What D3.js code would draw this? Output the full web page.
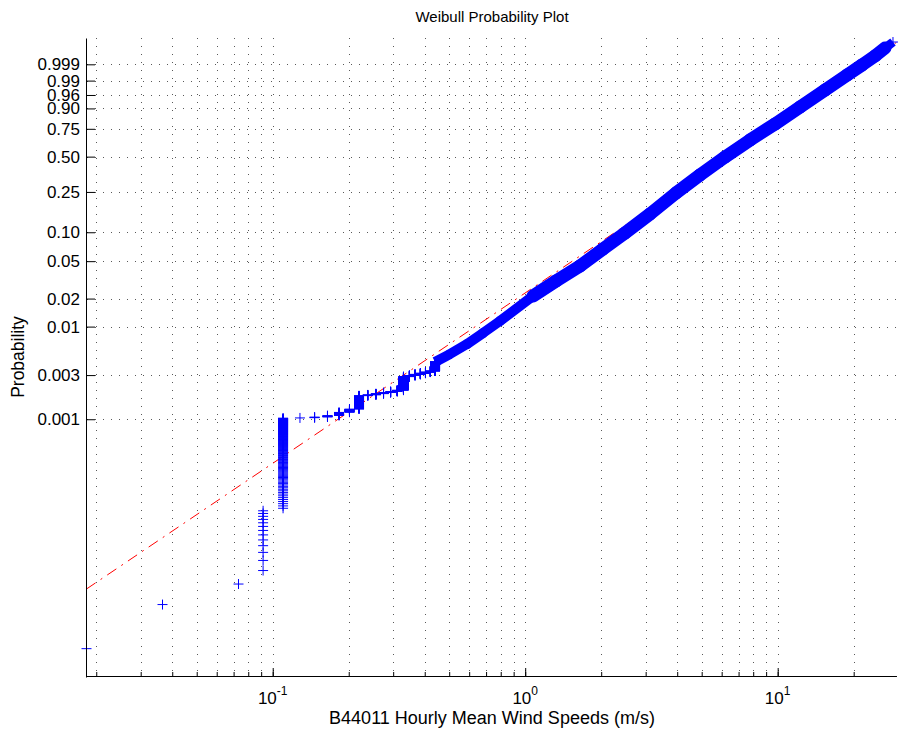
<!DOCTYPE html>
<html>
<head>
<meta charset="utf-8">
<title>Weibull Probability Plot</title>
<script src="https://cdn.jsdelivr.net/npm/d3@7/dist/d3.min.js"></script>
<style>
  body { margin: 0; background: #fff; }
  svg { display: block; font-family: "Liberation Sans", Arial, Helvetica, sans-serif; }
</style>
</head>
<body>
<script>
// number of hourly observations behind the plot
var nObs = 151500;

// lowest wind speeds (m/s): the discrete values and how many hours had each
var lowSpeeds = [0.0183, 0.0366, 0.0732, 0.0916, 0.1099, 0.1282, 0.1465, 0.1648, 0.1831, 0.2014,
                 0.2197, 0.2380, 0.2563, 0.2747, 0.2930, 0.3113, 0.3296, 0.3479, 0.3662, 0.3845,
                 0.4028, 0.4211, 0.4394];
var lowCounts = [1, 1, 1, 13, 140, 1, 3, 6, 14, 15,
                 77, 6, 8, 8, 8, 10, 125, 13, 13, 13,
                 13, 14, 127];

// rest of the empirical distribution, read along the dense band of markers
var bandSpeeds = [0.4394, 0.5036, 0.5882, 0.6805, 0.7946, 1.074, 1.3245, 1.648, 2.033, 2.485,
                  3.121, 3.956, 4.922, 6.184, 7.770, 9.757, 12.25, 15.39, 18.82, 21.57,
                  24.28, 26.61, 28.62];
var bandProbs = [0.00415, 0.00506, 0.00649, 0.00853, 0.01148, 0.0213, 0.0308, 0.0444, 0.0671, 0.0982,
                 0.1530, 0.2443, 0.3550, 0.4967, 0.6495, 0.7902, 0.9079, 0.97377, 0.99496, 0.998873,
                 0.999795, 0.9999684, 0.99999407];

// fitted weibull reference line (shape, scale in m/s)
var fitShape = 1.843;
var fitScale = 7.70;

// axis ticks
var yTickProbs = [0.001, 0.003, 0.01, 0.02, 0.05, 0.10, 0.25, 0.50, 0.75, 0.90, 0.96, 0.99, 0.999];
var yTickLabels = ["0.001", "0.003", "0.01", "0.02", "0.05", "0.10", "0.25", "0.50", "0.75", "0.90", "0.96", "0.99", "0.999"];
var xDecades = [0.1, 1, 10];
var xDecadeExps = ["-1", "0", "1"];

var svgOptions = { width: 898, height: 740 };
var plot = { left: 86, right: 896.3, top: 38, bottom: 676 };

// weibull probability paper: log10(-ln(1 - p))
var weib = function (p) { return Math.log10(-Math.log(1 - p)); };

var x = d3.scaleLog().domain([0.0183, 29.5]).range([86.5, 896.3]);
var y = d3.scaleLinear().domain([-5.788, 1.124]).range([677, 38]);

var px = function (d) { return x(d.speed); };
var py = function (d) { return y(weib(d.p)); };

var canvas = d3.select("body")
  .append("svg")
  .attr("width", svgOptions.width)
  .attr("height", svgOptions.height);

// dotted grid
canvas.append("g").selectAll("line")
  .data(x.ticks())
  .enter().append("line")
  .attr("x1", function (d) { return Math.round(x(d)) + 0.5; })
  .attr("x2", function (d) { return Math.round(x(d)) + 0.5; })
  .attr("y1", plot.top)
  .attr("y2", plot.bottom)
  .attr("stroke", "#000")
  .attr("stroke-opacity", 0.65)
  .attr("stroke-dasharray", "1,7")
  .attr("shape-rendering", "crispEdges");

canvas.append("g").selectAll("line")
  .data(yTickProbs)
  .enter().append("line")
  .attr("x1", plot.left + 1)
  .attr("x2", plot.right)
  .attr("y1", function (d) { return Math.round(y(weib(d))) + 0.5; })
  .attr("y2", function (d) { return Math.round(y(weib(d))) + 0.5; })
  .attr("stroke", "#000")
  .attr("stroke-opacity", 0.65)
  .attr("stroke-dasharray", "1,7")
  .attr("shape-rendering", "crispEdges");

// reference line, straight on this paper
var fitEnds = x.domain().map(function (s) {
  return { speed: s, p: 1 - Math.exp(-Math.pow(s / fitScale, fitShape)) };
});
canvas.append("path")
  .datum(fitEnds)
  .attr("fill", "none")
  .attr("stroke", "#ff0000")
  .attr("stroke-width", 1)
  .attr("stroke-dasharray", "11,6,2,6")
  .attr("d", d3.line().x(px).y(py));

// plotting positions (i - 0.5) / n for the low discrete values
var lowPoints = [];
var rank = 0;
lowSpeeds.forEach(function (s, j) {
  for (var c = 0; c < lowCounts[j]; c++) {
    rank += 1;
    lowPoints.push({ speed: s, p: (rank - 0.5) / nObs });
  }
});

var bandPoints = bandSpeeds.map(function (s, i) { return { speed: s, p: bandProbs[i] }; });

// the band: markers so dense they merge; a bit thinner at both ends
var bandPairs = d3.pairs(bandPoints);
var bandWidth = function (pair) {
  if (pair[1].speed <= 1.1) return 10;
  if (pair[0].speed >= 26) return 9;
  return 13;
};
canvas.append("g").selectAll("line")
  .data(bandPairs)
  .enter().append("line")
  .attr("x1", function (d) { return px(d[0]); })
  .attr("y1", function (d) { return py(d[0]); })
  .attr("x2", function (d) { return px(d[1]); })
  .attr("y2", function (d) { return py(d[1]); })
  .attr("stroke", "#0000ff")
  .attr("stroke-width", bandWidth)
  .attr("stroke-linecap", function (d, i) {
    return (i === 0 || i === bandPairs.length - 1) ? "butt" : "round";
  });

var plus = "M-5,0H5M0,-5V5";
canvas.append("g").selectAll("path")
  .data(lowPoints.concat(bandPoints))
  .enter().append("path")
  .attr("d", plus)
  .attr("transform", function (d) { return "translate(" + px(d) + "," + py(d) + ")"; })
  .attr("fill", "none")
  .attr("stroke", "#0000ff")
  .attr("stroke-width", 1);

// axes
var xMinor = canvas.append("g")
  .attr("transform", "translate(0," + plot.bottom + ")")
  .call(d3.axisBottom(x).tickValues(x.ticks()).tickSizeInner(-4).tickSizeOuter(0).tickFormat(""));
var xMajor = canvas.append("g")
  .attr("transform", "translate(0," + plot.bottom + ")")
  .call(d3.axisBottom(x).tickValues(xDecades).tickSizeInner(-8).tickSizeOuter(0).tickFormat(""));

var yAxis = canvas.append("g")
  .attr("transform", "translate(" + plot.left + ",0)")
  .call(d3.axisLeft(y)
    .tickValues(yTickProbs.map(weib))
    .tickFormat(function (d, i) { return yTickLabels[i]; })
    .tickSizeInner(-9).tickSizeOuter(0).tickPadding(6));

[xMinor, xMajor, yAxis].forEach(function (g) {
  g.selectAll("path, line").attr("stroke", "#000");
});
yAxis.selectAll("text")
  .attr("font-size", 17)
  .attr("font-family", "Liberation Sans, Arial, sans-serif")
  .attr("fill", "#000");

// decade labels 10^k
var decLabels = canvas.append("g").selectAll("text")
  .data(xDecades)
  .enter().append("text")
  .attr("x", function (d) { return x(d); })
  .attr("y", 704)
  .attr("text-anchor", "middle")
  .attr("font-size", 17);
decLabels.append("tspan").text("10");
decLabels.append("tspan")
  .attr("dy", -9)
  .attr("font-size", 12)
  .text(function (d, i) { return xDecadeExps[i]; });

// titles
canvas.append("text")
  .attr("x", 492)
  .attr("y", 22)
  .attr("text-anchor", "middle")
  .attr("font-size", 15)
  .text("Weibull Probability Plot");

canvas.append("text")
  .attr("x", 492)
  .attr("y", 724)
  .attr("text-anchor", "middle")
  .attr("font-size", 18)
  .text("B44011 Hourly Mean Wind Speeds (m/s)");

canvas.append("text")
  .attr("transform", "translate(24,357) rotate(-90)")
  .attr("text-anchor", "middle")
  .attr("font-size", 17.5)
  .text("Probability");
</script>
</body>
</html>
